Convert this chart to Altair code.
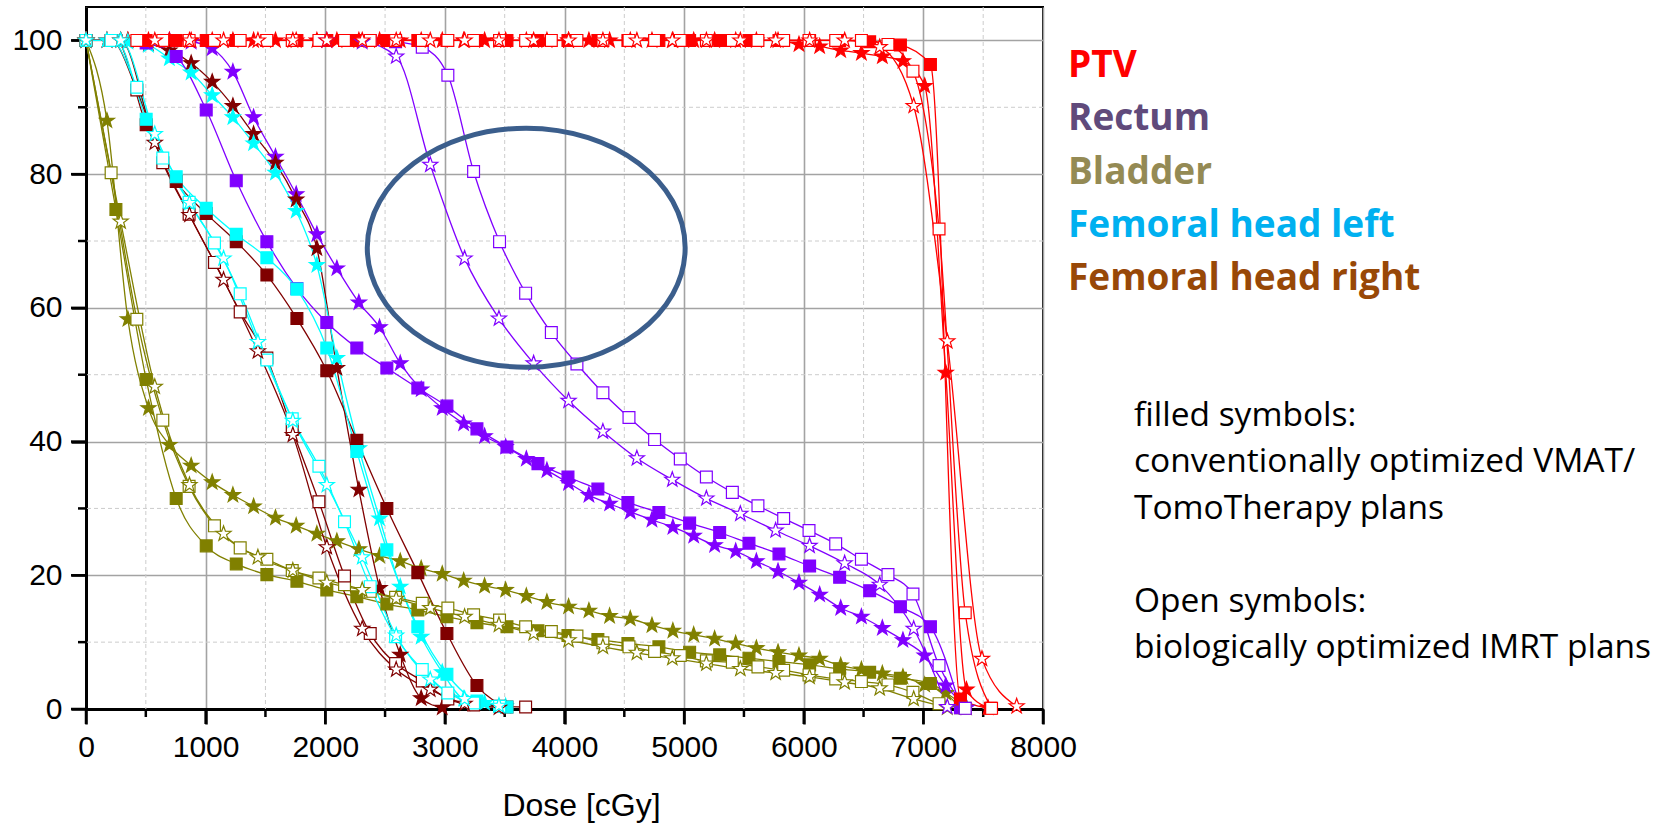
import altair as alt
import pandas as pd

# Dose bins (cGy) at which each marker family is sampled
FS_BINS = [0, 175, 350, 522, 697, 879, 1055, 1228, 1401, 1584, 1757, 1930, 2097, 2281,
           2454, 2627, 2802, 2978, 3157, 3332, 3508, 3681, 3853, 4034, 4204, 4377, 4550,
           4731, 4906, 5080, 5255, 5431, 5604, 5785, 5960, 6133, 6309, 6482, 6657, 6829,
           7011, 7187, 7360, 7540]
FQ_BINS = [0, 250, 503, 754, 1005, 1256, 1512, 1763, 2013, 2264, 2515, 2774, 3017, 3268,
           3519, 3778, 4029, 4279, 4530, 4789, 5046, 5297, 5542, 5793, 6049, 6300, 6551,
           6808, 7059, 7310, 7560]
OQ_BINS = [0, 210, 425, 642, 862, 1074, 1289, 1512, 1724, 1947, 2161, 2376, 2588, 2811,
           3025, 3240, 3457, 3675, 3890, 4104, 4321, 4539, 4753, 4968, 5186, 5403, 5617,
           5832, 6044, 6267, 6482, 6704, 6913, 7131, 7350, 7570]
OS_BINS = [0, 290, 575, 865, 1150, 1437, 1729, 2013, 2309, 2593, 2878, 3165, 3452, 3742,
           4034, 4321, 4605, 4901, 5186, 5470, 5765, 6049, 6342, 6635, 6919, 7200, 7490,
           7780]
BINS = {"fs": FS_BINS, "fq": FQ_BINS, "oq": OQ_BINS, "os": OS_BINS}

# Volume (%) per curve, starting at the given bin index
# fs/fq = filled star/square (VMAT / TomoTherapy), os/oq = open star/square (IMRT)
PTV_FS = [100, 100, 100, 100, 100, 100, 100, 100, 100, 100, 100, 100, 100, 100, 100, 100,
          100, 100, 100, 100, 100, 100, 100, 100, 100, 100, 100, 100, 100, 100, 100, 100,
          100, 100, 99.4, 99.1, 98.5, 98.1, 97.6, 96.9, 93.2, 50.3, 2.9, 0.2]
PTV_FQ = [100, 100, 100, 100, 100, 100, 100, 100, 100, 100, 100, 100, 100, 100, 100, 100,
          100, 100, 100, 100, 100, 100, 100, 100, 100, 100, 99.8, 99.3, 96.4, 1.5, 0.1]
PTV_OQ = [100, 100, 100, 100, 100, 100, 100, 100, 100, 100, 100, 100, 100, 100, 100, 100,
          100, 100, 100, 100, 100, 100, 100, 100, 100, 100, 100, 100, 100, 100, 100, 99.4,
          95.4, 71.8, 14.4, 0.1]
PTV_OS = [100, 100, 100, 100, 100, 100, 100, 100, 100, 100, 100, 100, 100, 100, 100, 100,
          100, 100, 100, 100, 100, 100, 100, 99.0, 90.2, 55.0, 7.5, 0.4]

REC_FS = [100, 99.8, 98.8, 95.3, 88.5, 82.6, 77.0, 71.0, 65.9, 60.8, 57.1, 51.7, 47.8,
          45.0, 42.7, 40.8, 39.2, 37.4, 35.7, 33.8, 32.0, 30.7, 29.5, 28.3, 27.2, 25.9,
          24.5, 23.6, 22.1, 20.6, 18.9, 17.1, 15.1, 13.8, 12.1, 10.3, 8.0, 3.5, 0.2]
REC_FQ = [100, 99.6, 97.6, 89.6, 79.0, 69.9, 62.9, 57.8, 54.0, 51.0, 48.0, 45.3, 41.9,
          39.2, 36.7, 34.7, 32.9, 30.9, 29.4, 27.8, 26.4, 24.8, 23.2, 21.4, 19.7, 17.7,
          15.3, 12.3, 0.2]
REC_OQ = [100, 100, 99.8, 99.0, 94.8, 80.4, 69.9, 62.2, 56.3, 51.6, 47.3, 43.6, 40.3,
          37.4, 34.7, 32.4, 30.4, 28.5, 26.7, 24.7, 22.4, 20.1, 17.2, 6.5, 0.1]
REC_OS = [100, 99.8, 97.6, 81.4, 67.4, 58.4, 51.7, 46.1, 41.5, 37.5, 34.3, 31.5, 29.2,
          26.7, 24.4, 21.8, 18.6, 12.0, 0.3]

BLA_FS = [100, 88.0, 58.3, 45.0, 39.5, 36.4, 33.9, 32.0, 30.3, 28.6, 27.4, 26.2, 25.1,
          23.9, 22.9, 22.1, 21.0, 20.2, 19.2, 18.4, 17.8, 16.9, 16.0, 15.3, 14.7, 13.9,
          13.5, 12.5, 11.7, 11.1, 10.5, 9.8, 9.1, 8.5, 8.0, 7.5, 6.5, 5.9, 5.3, 4.8, 3.6,
          2.4, 0.2]
BLA_FQ = [100, 74.7, 49.3, 31.5, 24.4, 21.7, 20.1, 19.1, 17.8, 16.8, 15.7, 14.8, 13.8,
          12.9, 12.3, 11.7, 11.0, 10.4, 9.8, 9.3, 8.5, 8.1, 7.6, 7.1, 6.6, 6.0, 5.5, 4.6,
          3.8, 0.2]
BLA_OQ = [100, 80.2, 58.3, 43.2, 33.3, 27.4, 24.1, 22.4, 20.7, 19.6, 18.6, 17.6, 16.7,
          15.8, 15.1, 14.1, 13.3, 12.3, 11.6, 10.9, 9.9, 9.3, 8.6, 8.0, 7.2, 7.0, 6.3, 5.8,
          5.1, 4.5, 4.1, 3.6, 2.5, 0.8, 0.1]
BLA_OS = [100, 72.9, 48.2, 33.5, 26.2, 22.7, 20.7, 18.9, 17.8, 16.5, 15.1, 13.8, 12.6,
          11.3, 10.3, 9.3, 8.4, 7.6, 6.8, 6.0, 5.4, 4.8, 4.0, 3.1, 1.5, 0.2]

FHL_FS = [100, 100, 99.8, 99.3, 97.3, 95.2, 91.8, 88.5, 84.6, 80.2, 74.5, 66.4, 52.5,
          39.0, 28.5, 18.3, 10.8, 5.5, 1.5, 0.9, 0.4]
FHL_FQ = [100, 100, 88.2, 79.6, 74.9, 71.0, 67.5, 62.8, 54.0, 38.5, 23.8, 12.3, 5.2, 1.2,
          0.3]
FHL_OQ = [100, 100, 93.0, 82.4, 75.8, 69.7, 62.1, 52.2, 43.4, 36.3, 28.0, 18.3, 10.8, 5.9,
          2.4, 0.9, 0.4]
FHL_OS = [100, 100, 86.0, 75.7, 67.4, 54.9, 43.1, 33.5, 22.7, 11.0, 4.4, 1.5, 0.5]

FHR_FS = [100, 100, 100, 99.5, 98.5, 96.6, 93.8, 90.2, 86.0, 81.7, 76.2, 68.9, 51.0, 32.8,
          18.1, 8.1, 1.6, 0.2]
FHR_FQ = [100, 100, 87.4, 78.9, 74.1, 69.9, 64.9, 58.4, 50.6, 40.2, 30.0, 20.4, 11.3, 3.5,
          0.3]
FHR_OQ = [100, 100, 92.6, 81.7, 74.0, 66.8, 59.4, 52.5, 41.8, 31.0, 19.9, 11.3, 6.8, 4.2,
          1.5, 0.6, 0.4, 0.3]
FHR_OS = [100, 100, 84.7, 73.9, 64.2, 53.5, 41.0, 24.2, 12.0, 5.9, 2.9, 0.8, 0.2]

CURVES = [
    ("Bladder", "fs", 0, BLA_FS), ("Bladder", "fq", 0, BLA_FQ),
    ("Bladder", "oq", 0, BLA_OQ), ("Bladder", "os", 0, BLA_OS),
    ("Rectum", "fs", 4, REC_FS), ("Rectum", "fq", 1, REC_FQ),
    ("Rectum", "oq", 10, REC_OQ), ("Rectum", "os", 7, REC_OS),
    ("Femoral head right", "fs", 0, FHR_FS), ("Femoral head right", "fq", 0, FHR_FQ),
    ("Femoral head right", "oq", 0, FHR_OQ), ("Femoral head right", "os", 0, FHR_OS),
    ("PTV", "fs", 0, PTV_FS), ("PTV", "fq", 0, PTV_FQ),
    ("PTV", "oq", 0, PTV_OQ), ("PTV", "os", 0, PTV_OS),
    ("Femoral head left", "fs", 0, FHL_FS), ("Femoral head left", "fq", 0, FHL_FQ),
    ("Femoral head left", "oq", 0, FHL_OQ), ("Femoral head left", "os", 0, FHL_OS),
]

STRUCTURES = ["Bladder", "Rectum", "Femoral head right", "PTV", "Femoral head left"]
STRUCTURE_COLORS = ["#808000", "#8000ff", "#800000", "#ff0000", "#00ffff"]
KIND_ORDER = ["fs", "fq", "oq", "os"]

LEGEND_LABELS = ["PTV", "Rectum", "Bladder", "Femoral head left", "Femoral head right"]
LEGEND_COLORS = ["#ff0000", "#604a7b", "#948a54", "#00b0f0", "#984807"]
NOTE_LINES = ["filled symbols:", "conventionally optimized VMAT/", "TomoTherapy plans",
              "", "Open symbols:", "biologically optimized IMRT plans"]

ELLIPSE_CENTER = {"dose": [3680], "vol": [69.0]}

# Axis values: labelled (major) and unlabelled (minor) positions
X_MAJOR = [0, 1000, 2000, 3000, 4000, 5000, 6000, 7000, 8000]
X_MINOR = [500, 1500, 2500, 3500, 4500, 5500, 6500, 7500]
Y_MAJOR = [0, 20, 40, 60, 80, 100]
Y_MINOR = [10, 30, 50, 70, 90]

PLOT_W, PLOT_H = 957, 702

# ---- long-form table ---------------------------------------------------------
rows = []
for structure, kind, start, vols in CURVES:
    bins = BINS[kind]
    for i, v in enumerate(vols):
        rows.append({"dose": bins[start + i], "vol": v, "structure": structure,
                     "kind": kind, "curve": f"{structure}|{kind}"})
df = pd.DataFrame(rows)
df["_k"] = df["kind"].map({k: i for i, k in enumerate(KIND_ORDER)})
df["_s"] = df["structure"].map({s: i for i, s in enumerate(STRUCTURES)})
df = df.sort_values(["_k", "_s"], kind="stable").drop(columns=["_k", "_s"])

# ---- shapes --------------------------------------------------------------------
STAR = ("M0,-1L0.235,-0.324L0.951,-0.309L0.38,0.124L0.588,0.809L0,0.4L-0.588,0.809"
        "L-0.38,0.124L-0.951,-0.309L-0.235,-0.324Z")
ELLIPSE = ("M1.33,0C1.33,0.5523 0.7346,1 0,1C-0.7346,1 -1.33,0.5523 -1.33,0"
           "C-1.33,-0.5523 -0.7346,-1 0,-1C0.7346,-1 1.33,-0.5523 1.33,0Z")

color_scale = alt.Scale(domain=STRUCTURES, range=STRUCTURE_COLORS)

# plain axes on the labelled values; minor grid and all ticks are separate layers
x_axis = alt.Axis(values=X_MAJOR, format="d", labelFlush=False, labelOverlap=False,
                  labelFont="Liberation Sans", labelFontSize=30, labelColor="black",
                  labelPadding=8, tickSize=15, tickWidth=2.5, tickColor="black",
                  gridColor="#a3a3a3", gridWidth=1.6,
                  domainColor="black", domainWidth=3,
                  titleX=495, titleY=106, titleAlign="center", titleBaseline="alphabetic",
                  titleFont="Liberation Sans", titleFontSize=32,
                  titleFontWeight="normal", titleColor="black")
y_axis = alt.Axis(values=Y_MAJOR, format="d", labelFlush=False, labelOverlap=False,
                  labelFont="Liberation Sans", labelFontSize=30, labelColor="black",
                  labelPadding=9, tickSize=15, tickWidth=2.5, tickColor="black",
                  gridColor="#a3a3a3", gridWidth=1.6,
                  domainColor="black", domainWidth=3)

X_ENC = alt.X("dose:Q", scale=alt.Scale(domain=[0, 8000], nice=False), axis=x_axis,
              title="Dose [cGy]")
Y_ENC = alt.Y("vol:Q", scale=alt.Scale(domain=[0, 105], nice=False), axis=y_axis, title=None)

# ---- dashed minor grid ----------------------------------------------------------
minor_grid = [
    alt.Chart(pd.DataFrame({"dose": X_MINOR})).mark_rule(
        color="#cccccc", strokeWidth=1, strokeDash=[4, 3]).encode(x=X_ENC),
    alt.Chart(pd.DataFrame({"vol": Y_MINOR})).mark_rule(
        color="#cccccc", strokeWidth=1, strokeDash=[4, 3]).encode(y=Y_ENC),
]

# ---- outward tick marks (long on labelled values, short in between) ------------
tick_layers = [
    alt.Chart(pd.DataFrame({"dose": X_MAJOR})).mark_rule(color="black", strokeWidth=2.5)
    .encode(x=X_ENC, y=alt.value(PLOT_H), y2=alt.value(PLOT_H + 15)),
    alt.Chart(pd.DataFrame({"dose": X_MINOR})).mark_rule(color="black", strokeWidth=2.5)
    .encode(x=X_ENC, y=alt.value(PLOT_H), y2=alt.value(PLOT_H + 8)),
    alt.Chart(pd.DataFrame({"vol": Y_MAJOR})).mark_rule(color="black", strokeWidth=2.5)
    .encode(y=Y_ENC, x=alt.value(0), x2=alt.value(-15)),
    alt.Chart(pd.DataFrame({"vol": Y_MINOR})).mark_rule(color="black", strokeWidth=2.5)
    .encode(y=Y_ENC, x=alt.value(0), x2=alt.value(-8)),
]

base = alt.Chart(df)

lines = base.mark_line(interpolate="monotone", strokeWidth=1.3).encode(
    x=X_ENC, y=Y_ENC,
    color=alt.Color("structure:N", scale=color_scale, legend=None),
    detail="curve:N",
)

is_open = "datum.kind === 'os' || datum.kind === 'oq'"
is_star = "datum.kind === 'os' || datum.kind === 'fs'"
points = base.mark_point(filled=True, opacity=1, strokeWidth=1.2).encode(
    x=X_ENC, y=Y_ENC,
    shape=alt.Shape("kind:N", scale=alt.Scale(domain=KIND_ORDER,
                                              range=[STAR, "square", "square", STAR]),
                    legend=None),
    size=alt.condition(is_star, alt.value(250), alt.value(140)),
    fill=alt.condition(is_open, alt.value("white"),
                       alt.Fill("structure:N", scale=color_scale, legend=None)),
    stroke=alt.Stroke("structure:N", scale=color_scale, legend=None),
)

ellipse = alt.Chart(pd.DataFrame(ELLIPSE_CENTER)).mark_point(
    shape=ELLIPSE, size=57121, filled=False, opacity=1, stroke="#3b5e8c", strokeWidth=5
).encode(x=X_ENC, y=Y_ENC)

# ---- side texts (pixel positions relative to the plot origin) -------------------
texts = []
for i, (label, col) in enumerate(zip(LEGEND_LABELS, LEGEND_COLORS)):
    texts.append(
        alt.Chart(pd.DataFrame({"t": [label]})).mark_text(
            align="left", baseline="alphabetic", font="Open Sans", fontWeight="bold",
            fontSize=37, color=col,
        ).encode(text="t:N", x=alt.value(982), y=alt.value(70 + i * 53.3))
    )
for i, line in enumerate(NOTE_LINES):
    if not line:
        continue
    texts.append(
        alt.Chart(pd.DataFrame({"t": [line]})).mark_text(
            align="left", baseline="alphabetic", font="Open Sans", fontSize=33.5,
            color="black",
        ).encode(text="t:N", x=alt.value(1048), y=alt.value(419 + i * 46.4))
    )

chart = alt.layer(*minor_grid, *tick_layers, lines, points, ellipse, *texts).properties(
    width=PLOT_W, height=PLOT_H,
    autosize=alt.AutoSizeParams(type="none"),
    padding={"left": 86, "top": 7, "right": 629, "bottom": 116},
    background="white",
).configure_view(
    stroke="black", strokeWidth=2,
)

chart.save("out.html", embed_options={"renderer": "svg", "actions": False})
